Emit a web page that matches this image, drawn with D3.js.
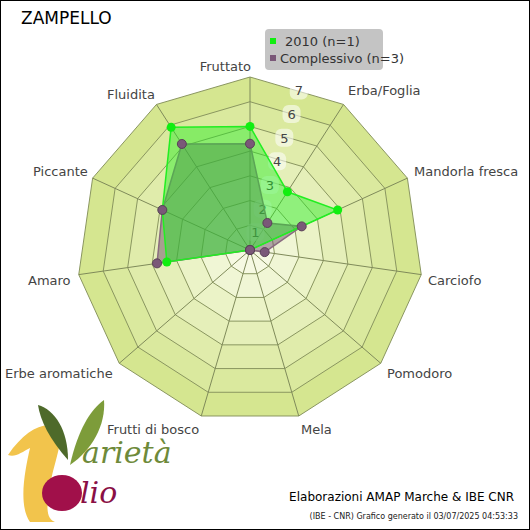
<!DOCTYPE html>
<html><head><meta charset="utf-8">
<script src="https://cdn.jsdelivr.net/npm/d3@7"></script>
<style>body{margin:0;background:#fff}svg{display:block}</style>
</head><body>
<svg width="530" height="530"></svg>
<script>
let axes = ["Fruttato", "Erba/Foglia", "Mandorla fresca", "Carciofo", "Pomodoro", "Mela",
  "Frutti di bosco", "Erbe aromatiche", "Amaro", "Piccante", "Fluidita"];
let values2010 = [5.0, 2.8, 3.9, 0, 0, 0, 0, 0, 3.4, 3.9, 5.9];
let valuesTot = [4.3, 1.3, 2.3, 0.6, 0, 0, 0, 0, 3.8, 3.9, 5.1];
let levels = [1, 2, 3, 4, 5, 6, 7];
let seriesNames = ["2010 (n=1)", "Complessivo (n=3)"];

let svg = d3.select("svg");
let cx = 250, cy = 250, R = 173;
let r = d3.scaleLinear().domain([0, 7]).range([0, R]);
let ang = d3.scalePoint().domain(axes.map((d, i) => i)).range([0, 2 * Math.PI * (axes.length - 1) / axes.length]);
function pt(i, v) {
  let a = ang(i);
  return [cx + r(v) * Math.sin(a), cy - r(v) * Math.cos(a)];
}

svg.append("rect").attr("x", 0.5).attr("y", 0.5).attr("width", 529).attr("height", 529)
  .attr("fill", "#fff").attr("stroke", "#000");

// rings, outer first
let ringColor = d3.scaleLinear().domain([0, 7]).range(["#fbfcf0", "#d5e690"]);
levels.slice().reverse().forEach(function (l) {
  svg.append("polygon")
    .attr("points", axes.map((d, i) => pt(i, l).join(",")).join(" "))
    .attr("fill", ringColor(l)).attr("stroke", "#8a9660").attr("stroke-width", 1);
});
axes.forEach(function (d, i) {
  let p = pt(i, 7);
  svg.append("line").attr("x1", cx).attr("y1", cy).attr("x2", p[0]).attr("y2", p[1])
    .attr("stroke", "#7f8a5a").attr("stroke-width", 1);
});

// level labels
levels.forEach(function (l) {
  let a = 17 * Math.PI / 180, rr = r(l - 0.25);
  let x = cx + rr * Math.sin(a), y = cy - rr * Math.cos(a);
  svg.append("rect").attr("x", x - 9).attr("y", y - 9).attr("width", 18).attr("height", 18).attr("rx", 6)
    .attr("fill", "#fff").attr("opacity", 0.55);
  svg.append("text").attr("x", x).attr("y", y + 5).attr("text-anchor", "middle")
    .attr("font-family", "DejaVu Sans").attr("font-size", 13).attr("fill", "#444").text(l);
});

// series
let series = [
  { vals: valuesTot, fill: "#6a5068", stroke: "#8a6a80", dot: "#7a5878", op: 0.5 },
  { vals: values2010, fill: "#22ee22", stroke: "#22ee22", dot: "#11ee11", op: 0.45 }
];
let line = d3.line().curve(d3.curveLinearClosed);
series.forEach(function (s) {
  svg.append("path").attr("d", line(s.vals.map((v, i) => pt(i, v))))
    .attr("fill", s.fill).attr("fill-opacity", s.op).attr("stroke", s.stroke).attr("stroke-width", 1.5);
});
[series[1], series[0]].forEach(function (s) {
  svg.selectAll(null).data(s.vals).enter().append("circle")
    .attr("cx", (v, i) => pt(i, v)[0]).attr("cy", (v, i) => pt(i, v)[1])
    .attr("r", 4.5).attr("fill", s.dot).attr("stroke", "#5a4058").attr("stroke-width", s === series[0] ? 1 : 0);
});

// axis labels
let labelPos = [[251, 71, "end"], [348, 95, "start"], [414, 176, "start"], [428, 285, "start"],
  [387, 378, "start"], [301, 434, "start"], [107, 434, "start"], [5, 378, "start"],
  [28, 285, "start"], [33, 176, "start"], [107, 99, "start"]];
axes.forEach(function (d, i) {
  svg.append("text").attr("x", labelPos[i][0]).attr("y", labelPos[i][1]).attr("text-anchor", labelPos[i][2])
    .attr("font-family", "DejaVu Sans").attr("font-size", 13).attr("fill", "#444").text(d);
});

// title
svg.append("text").attr("x", 21).attr("y", 24).attr("font-family", "DejaVu Sans").attr("font-size", 17)
  .attr("fill", "#000").text("ZAMPELLO");

// legend
svg.append("rect").attr("x", 265).attr("y", 29).attr("width", 118).attr("height", 41).attr("rx", 4)
  .attr("fill", "#c4c4c4");
seriesNames.forEach(function (n, i) {
  svg.append("rect").attr("x", 270).attr("y", 38 + i * 17).attr("width", 6).attr("height", 6)
    .attr("fill", i === 0 ? "#11ee11" : "#7a5878");
  svg.append("text").attr("x", 281 - (i ? 1 : -4)).attr("y", 46 + i * 17).attr("font-family", "DejaVu Sans")
    .attr("font-size", 13).attr("fill", "#333").text(n);
});

// logo (approximation)
let logo = svg.append("g");
logo.append("path").attr("d", "M8,455 C25,430 45,420 58,428 C66,440 50,470 48,500 C46,515 50,520 55,522 L30,522 C18,505 25,470 30,448 C22,452 15,458 8,455 Z")
  .attr("fill", "#f2c44c");
logo.append("path").attr("d", "M68,460 C50,440 40,420 38,405 C55,410 68,430 68,460 Z").attr("fill", "#4e6a2a");
logo.append("path").attr("d", "M70,465 C78,430 90,410 104,400 C106,425 92,450 70,465 Z").attr("fill", "#7d9c3a");
logo.append("text").attr("x", 82).attr("y", 463).attr("font-family", "DejaVu Serif").attr("font-style", "italic")
  .attr("font-size", 30).attr("fill", "#6e8a3a").text("arietà");
logo.append("ellipse").attr("cx", 62).attr("cy", 493).attr("rx", 20).attr("ry", 18).attr("fill", "#a1104a");
logo.append("text").attr("x", 80).attr("y", 503).attr("font-family", "DejaVu Serif").attr("font-style", "italic")
  .attr("font-size", 30).attr("fill", "#8a0f45").text("lio");

// footer
svg.append("text").attr("x", 514).attr("y", 501).attr("text-anchor", "end").attr("font-family", "DejaVu Sans")
  .attr("font-size", 12).attr("fill", "#000").text("Elaborazioni AMAP Marche & IBE CNR");
svg.append("text").attr("x", 518).attr("y", 519).attr("text-anchor", "end").attr("font-family", "DejaVu Sans")
  .attr("font-size", 8).attr("fill", "#222").text("(IBE - CNR) Grafico generato il 03/07/2025 04:53:33");
</script>
</body></html>
